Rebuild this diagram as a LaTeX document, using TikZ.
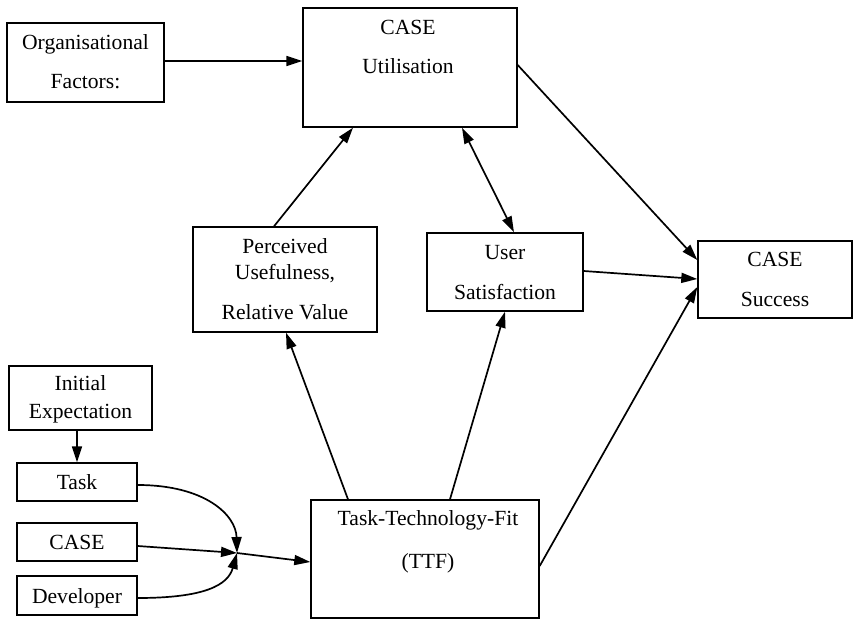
\documentclass[tikz,border=0pt]{standalone}
\usepackage{fontspec}
\setmainfont{Liberation Serif}
\usetikzlibrary{arrows.meta,fit,calc}
\tikzset{
  box/.style={draw, line width=0.7pt, inner sep=0pt, rectangle},
  txt/.style={inner sep=0pt, anchor=base, font=\fontsize{10.8}{13}\selectfont},
  arr/.style={line width=0.85pt, -{Triangle[length=8pt,width=5pt]}},
  darr/.style={line width=0.85pt, {Triangle[length=8pt,width=5pt]}-{Triangle[length=8pt,width=5pt]}}
}
\begin{document}
\begin{tikzpicture}[x=0.5pt,y=-0.5pt]
\useasboundingbox (0,0) rectangle (853,621);
% boxes
\node[box, fit={(7,23)(164,102)}] (org) {};
\node[box, fit={(303,8)(517,127)}] (util) {};
\node[box, fit={(193,227)(377,332)}] (perc) {};
\node[box, fit={(427,233)(583,311)}] (user) {};
\node[box, fit={(698,241)(852,318)}] (succ) {};
\node[box, fit={(9,366)(152,430)}] (init) {};
\node[box, fit={(17,463)(137,501)}] (task) {};
\node[box, fit={(17,523)(137,561)}] (tool) {};
\node[box, fit={(17,576)(137,615)}] (dev) {};
\node[box, fit={(311,500)(539,618)}] (ttf) {};
% texts
\node[txt] (org1) at (85.5,49) {Organisational};
\node[txt] (org2) at (85.5,89) {Factors:};
\node[txt] (util1) at (408,34) {CASE};
\node[txt] (util2) at (408,74) {Utilisation};
\node[txt] (perc1) at (285,253) {Perceived};
\node[txt] (perc2) at (285,279) {Usefulness,};
\node[txt] (perc3) at (285,319) {Relative Value};
\node[txt] (user1) at (505,259) {User};
\node[txt] (user2) at (505,299) {Satisfaction};
\node[txt] (succ1) at (775,266) {CASE};
\node[txt] (succ2) at (775,306) {Success};
\node[txt] (init1) at (80.5,390) {Initial};
\node[txt] (init2) at (80.5,418) {Expectation};
\node[txt] (task1) at (77,489) {Task};
\node[txt] (tool1) at (77,549) {CASE};
\node[txt] (dev1) at (77,603) {Developer};
\node[txt] (ttf1) at (428,525) {Task-Technology-Fit};
\node[txt] (ttf2) at (428,568) {(TTF)};
% connectors
\coordinate (m) at (237,553);
\draw[arr] ($(org.east)+(0,-1.5)$) -- (util.west |- {$(org.east)+(0,-1.5)$});
\draw[arr] ($(perc.north)+(-11,0)$) -- ($(util.south)+(-57,0)$);
\draw[darr] ($(util.south)+(52,0)$) -- ($(user.north)+(9,0)$);
\draw[arr] ($(util.east)+(0,-2.5)$) -- ($(succ.west)+(0,-19.5)$);
\draw[arr] ($(user.east)+(0,-1)$) -- ($(succ.west)+(0,-0.5)$);
\draw[arr] ($(ttf.east)+(0,7)$) -- ($(succ.west)+(0,7.5)$);
\draw[arr] ($(ttf.north)+(-77,0)$) -- ($(perc.south)+(1,0)$);
\draw[arr] ($(ttf.north)+(25,0)$) -- (user.south);
\draw[arr] (init.south -| task.north) -- (task.north);
\draw[arr] ($(task.east)+(0,3)$) .. controls (205,485) and (236,515) .. (m);
\draw[arr] ($(tool.east)+(0,4)$) -- (m);
\draw[arr] ($(dev.east)+(0,2.5)$) .. controls (205,598) and (228,585) .. (m);
\draw[arr] (m) -- ($(ttf.west)+(0,3)$);
\end{tikzpicture}
\end{document}
